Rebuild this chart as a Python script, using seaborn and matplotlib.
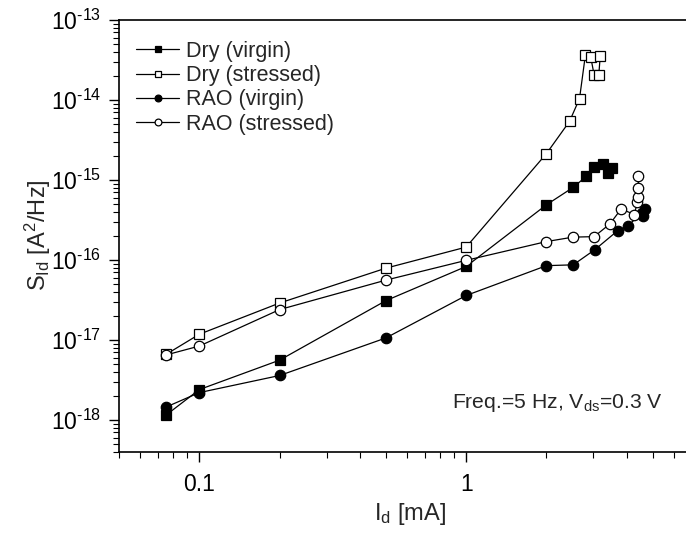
import numpy as np
import pandas as pd
import matplotlib
matplotlib.use("Agg")
import matplotlib.pyplot as plt
import matplotlib.ticker as mticker
import seaborn as sns

# ── Data ─────────────────────────────────────────────────────────────────────
dry_virgin_x = [0.075, 0.1, 0.2, 0.5, 1.0, 2.0, 2.52, 2.82, 3.02, 3.27, 3.41, 3.53]
dry_virgin_y = [1.15e-18, 2.4e-18, 5.6e-18, 3.1e-17, 8.3e-17, 4.9e-16, 8.1e-16,
                1.11e-15, 1.44e-15, 1.58e-15, 1.24e-15, 1.41e-15]

dry_stressed_x = [0.075, 0.1, 0.2, 0.5, 1.0, 2.0, 2.44, 2.66, 2.80, 2.93, 3.02, 3.14, 3.18]
dry_stressed_y = [6.6e-18, 1.18e-17, 2.9e-17, 7.9e-17, 1.45e-16, 2.14e-15, 5.4e-15,
                  1.04e-14, 3.7e-14, 3.45e-14, 2.03e-14, 2.03e-14, 3.5e-14]

rao_virgin_x = [0.075, 0.1, 0.2, 0.5, 1.0, 2.0, 2.52, 3.04, 3.70, 4.05, 4.55, 4.61, 4.68]
rao_virgin_y = [1.45e-18, 2.2e-18, 3.6e-18, 1.06e-17, 3.6e-17, 8.5e-17, 8.7e-17,
                1.35e-16, 2.33e-16, 2.69e-16, 3.9e-16, 3.58e-16, 4.35e-16]

rao_stressed_x = [0.075, 0.1, 0.2, 0.5, 1.0, 2.0, 2.51, 3.02, 3.46, 3.81, 4.27, 4.38,
                  4.40, 4.42, 4.42]
rao_stressed_y = [6.5e-18, 8.4e-18, 2.4e-17, 5.6e-17, 9.9e-17, 1.7e-16, 1.93e-16,
                  1.96e-16, 2.83e-16, 4.35e-16, 3.7e-16, 5.3e-16, 6.1e-16, 7.85e-16, 1.13e-15]

X_TICKS = [0.1, 1]
Y_TICKS = [1e-18, 1e-17, 1e-16, 1e-15, 1e-14, 1e-13]

SERIES = [
    ("Dry (virgin)",    dry_virgin_x,   dry_virgin_y,   "s", "black"),
    ("Dry (stressed)",  dry_stressed_x, dry_stressed_y, "s", "white"),
    ("RAO (virgin)",    rao_virgin_x,   rao_virgin_y,   "o", "black"),
    ("RAO (stressed)",  rao_stressed_x, rao_stressed_y, "o", "white"),
]

# ── Style ─────────────────────────────────────────────────────────────────────
sns.set_style("ticks")
plt.rcParams["font.family"] = ["Liberation Sans", "DejaVu Sans"]
plt.rcParams["mathtext.fontset"] = "custom"
plt.rcParams["mathtext.rm"] = "Liberation Sans"
plt.rcParams["mathtext.it"] = "Liberation Sans"
plt.rcParams["mathtext.default"] = "regular"
plt.rcParams["axes.unicode_minus"] = False

W, H = 686, 537
fig = plt.figure(figsize=(W / 100, H / 100), dpi=100)
# right edge of the frame is cropped off in the reference
ax = fig.add_axes([119 / W, 85 / H, (W - 119) / W, (452 - 20) / H])

for label, xs, ys, mk, fc in SERIES:
    df = pd.DataFrame({"x": xs, "y": ys})
    sns.lineplot(data=df, x="x", y="y", ax=ax, sort=False, estimator=None,
                 color="black", linewidth=0.9, marker=mk, markersize=7.5,
                 markerfacecolor=fc, markeredgecolor="black", markeredgewidth=0.9,
                 label=label)

ax.set_xscale("log")
ax.set_yscale("log")
ax.set_xticks(X_TICKS)
ax.set_yticks(Y_TICKS)
ax.set_xlim(0.05, 10 ** ((W - 466) / 267))
ax.set_ylim(10 ** -18.4, 1e-13)

ax.xaxis.set_major_formatter(mticker.FuncFormatter(lambda v, p: f"{v:g}"))
# hyphen (U+2010) instead of the wide math minus, like the original Origin labels
ax.yaxis.set_major_formatter(
    mticker.FuncFormatter(lambda v, p: "10$^{\u2010%d}$" % abs(round(np.log10(v)))))
ax.xaxis.set_minor_locator(mticker.LogLocator(base=10, subs=np.arange(2, 10)))
ax.yaxis.set_minor_locator(mticker.LogLocator(base=10, subs=np.arange(2, 10), numticks=20))
ax.yaxis.set_minor_formatter(mticker.NullFormatter())
ax.xaxis.set_minor_formatter(mticker.NullFormatter())

ax.tick_params(which="major", direction="out", length=7, width=1.0, labelsize=16.5,
               color="black", labelcolor="black")
ax.tick_params(which="minor", direction="out", length=4, width=0.8, color="black")
ax.tick_params(axis="x", which="major", pad=8)
ax.tick_params(axis="y", which="major", pad=6)

for s in ax.spines.values():
    s.set_color("black")
    s.set_linewidth(1.2)
ax.spines["right"].set_visible(False)

ax.set_xlabel("")
ax.set_ylabel("")
fig.text(410 / W, 1 - 514 / H, r"I$_{d}$ [mA]", ha="center", va="center", fontsize=17)
fig.text(38 / W, 1 - 235 / H, r"S$_{Id}$ [A$^{2}$/Hz]", ha="center", va="center",
         rotation=90, fontsize=17)
fig.text(663 / W, 1 - 408 / H, r"Freq.=5 Hz, V$_{ds}$=0.3 V", ha="right",
         va="baseline", fontsize=15.2)

leg = ax.legend(loc="upper left", bbox_to_anchor=(136 / W, 1 - 41 / H),
                bbox_transform=fig.transFigure, frameon=False, fontsize=15.5,
                handlelength=2.0, handletextpad=0.3, labelspacing=0.15,
                borderpad=0, borderaxespad=0, markerscale=0.65)

fig.savefig("out.png", dpi=100)
